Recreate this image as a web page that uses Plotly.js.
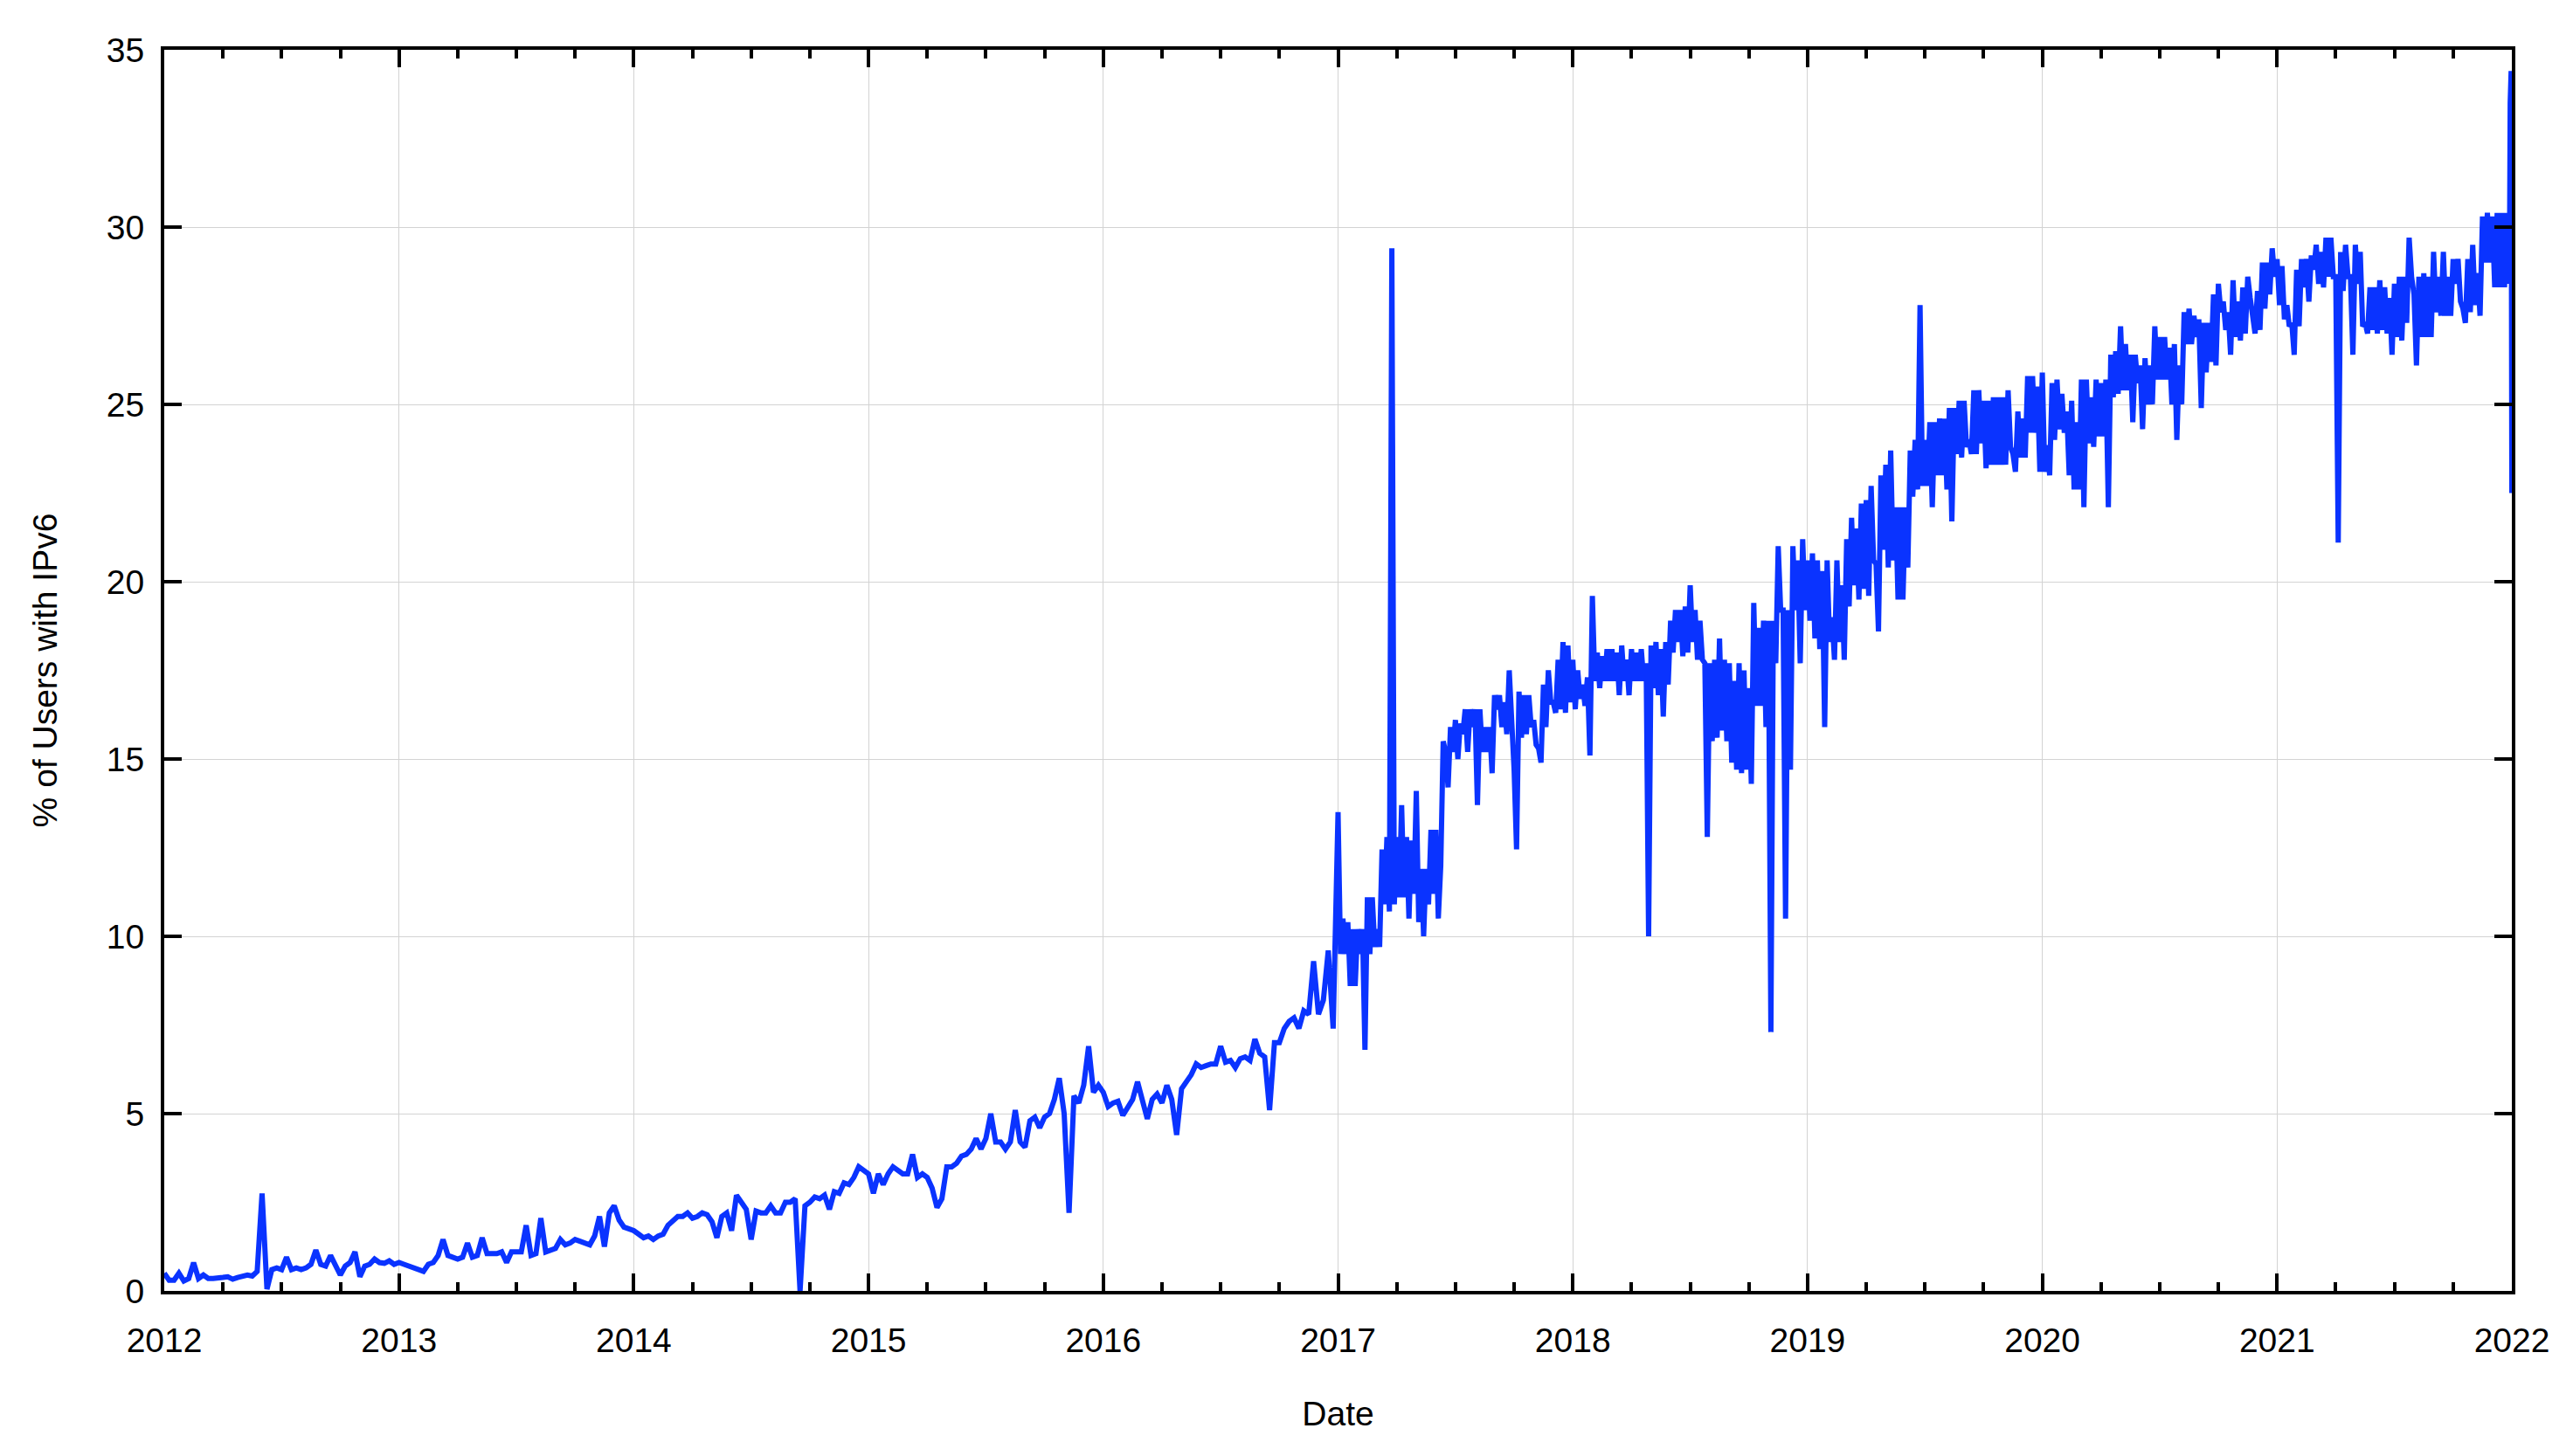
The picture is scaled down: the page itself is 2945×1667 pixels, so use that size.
<!DOCTYPE html>
<html>
<head>
<meta charset="utf-8">
<script src="https://cdn.plot.ly/plotly-3.0.1.min.js"></script>
<style>
  html, body { margin: 0; padding: 0; background: #ffffff; }
  #chart { width: 2945px; height: 1667px; }
</style>
</head>
<body>
<div id="chart"></div>
<script>
// % of users with IPv6.
// 2012-2016: 48 readings per year; 2017-2021: 48 (upper, lower) pairs per year,
// the top and bottom of the daily band, so 96 readings per year.
const years = [2012, 2013, 2014, 2015, 2016, 2017, 2018, 2019, 2020, 2021];
const stepsPerYear = [48, 48, 48, 48, 48, 96, 96, 96, 96, 96];

const v2012 = [0.5,0.3,0.3,0.5,0.28,0.35,0.8,0.35,0.45,0.35,0.35,0.38,0.38,0.4,0.33,0.38,0.42,0.45,0.42,0.55,2.75,0.05,0.6,0.65,0.6,0.95,0.6,0.65,0.6,0.65,0.75,1.15,0.75,0.7,1.0,0.75,0.45,0.7,0.8,1.1,0.4,0.7,0.75,0.9,0.8,0.78,0.85,0.75];
const v2013 = [0.8,0.75,0.7,0.65,0.6,0.55,0.75,0.8,1.0,1.45,1.0,0.95,0.9,0.95,1.35,0.95,1.0,1.5,1.05,1.05,1.05,1.1,0.8,1.1,1.1,1.1,1.85,1.0,1.05,2.05,1.1,1.15,1.2,1.45,1.3,1.35,1.45,1.4,1.35,1.3,1.55,2.1,1.25,2.2,2.4,2.0,1.8,1.75];
const v2014 = [1.7,1.6,1.5,1.55,1.45,1.55,1.6,1.85,2.0,2.1,2.1,2.2,2.05,2.1,2.2,2.15,1.95,1.5,2.1,2.2,1.7,2.7,2.5,2.3,1.45,2.25,2.2,2.2,2.4,2.2,2.2,2.5,2.5,2.6,0.0,2.4,2.5,2.65,2.6,2.7,2.3,2.8,2.75,3.05,3.0,3.2,3.5,3.4];
const v2015 = [3.3,2.75,3.3,3.0,3.3,3.5,3.4,3.3,3.3,3.85,3.2,3.3,3.2,2.9,2.35,2.6,3.5,3.5,3.6,3.8,3.85,4.0,4.3,4.0,4.3,5.0,4.2,4.2,4.0,4.2,5.1,4.2,4.05,4.8,4.9,4.6,4.9,5.0,5.4,6.0,5.0,2.2,5.5,5.3,5.8,6.9,5.6,5.8];
const v2016 = [5.6,5.2,5.3,5.35,4.95,5.2,5.4,5.9,5.35,4.85,5.4,5.55,5.3,5.8,5.4,4.4,5.7,5.9,6.1,6.4,6.3,6.35,6.4,6.4,6.9,6.45,6.5,6.3,6.55,6.6,6.5,7.1,6.7,6.6,5.1,7.0,7.0,7.4,7.6,7.7,7.4,7.9,7.8,9.3,7.8,8.2,9.6,7.4];
const v2017 = [
  13.5,9.5, 10.5,9.5, 10.4,8.6, 10.2,8.6, 10.2,9.5, 10.2,6.8, 11.1,9.5, 11.1,9.7,
  10.2,9.7, 12.45,10.9, 12.8,10.7, 29.4,10.9, 12.8,11.1, 13.7,11.1, 12.8,10.5, 12.7,11.2,
  14.1,10.4, 11.9,10.0, 11.9,10.9, 13.0,11.2, 13.0,10.5, 12.0,15.5, 15.2,14.2, 15.9,15.2,
  16.1,15.0, 16.0,15.7, 16.4,15.2, 16.4,15.9, 16.4,13.7, 16.4,15.2, 15.9,15.2, 15.9,14.6,
  16.8,16.4, 16.8,15.9, 16.6,15.7, 17.5,16.1, 14.7,12.45, 16.9,15.6, 16.8,15.7, 16.8,15.9,
  16.1,15.4, 15.3,14.9, 17.1,15.9, 17.5,16.6, 16.6,16.3, 17.8,16.4, 18.3,16.3, 18.2,16.6];
const v2018 = [
  17.8,16.4, 17.5,16.7, 17.1,16.5, 17.3,15.1, 19.6,17.2, 18.0,17.0, 17.9,17.2, 18.1,17.2,
  18.1,17.2, 18.0,16.8, 18.2,17.2, 17.8,16.8, 18.1,17.2, 18.0,17.2, 18.1,17.2, 17.7,10.0,
  18.2,17.0, 18.3,16.8, 18.1,16.2, 18.3,17.1, 18.9,18.0, 19.2,18.3, 19.2,17.9, 19.3,18.0,
  19.9,18.3, 19.2,17.8, 18.9,17.8, 17.7,12.8, 17.7,15.5, 17.8,15.6, 18.4,15.8, 17.8,15.5,
  17.7,14.9, 17.2,14.7, 17.7,14.6, 17.5,14.7, 17.0,14.3, 19.4,16.5, 18.7,16.5, 18.9,15.9,
  18.9,7.3, 18.9,17.7, 21.0,19.2, 19.2,10.5, 19.2,14.7, 21.0,19.2, 20.6,17.7, 21.2,19.2];
const v2019 = [
  20.6,18.9, 20.8,18.4, 20.6,18.1, 20.3,15.9, 20.6,18.3, 19.0,17.8, 20.6,18.3, 19.9,17.8,
  21.2,19.3, 21.8,19.9, 21.5,19.5, 22.2,19.8, 22.3,19.6, 22.7,20.6, 20.5,18.6, 23.0,20.9,
  23.3,20.4, 23.7,20.6, 22.1,19.5, 22.1,19.5, 22.1,20.4, 23.7,22.4, 24.0,22.6, 27.8,22.7,
  24.0,22.7, 24.5,22.1, 24.5,23.0, 24.6,23.0, 24.6,22.6, 24.9,21.7, 24.9,23.6, 25.1,23.5,
  25.1,23.8, 24.0,23.6, 25.4,23.6, 25.4,23.9, 25.1,23.2, 25.1,23.3, 25.2,23.3, 25.2,23.3,
  25.2,23.3, 25.4,23.8, 23.6,23.1, 24.8,23.5, 24.6,23.5, 25.8,24.2, 25.8,24.2, 25.5,23.1];
const v2020 = [
  25.9,23.1, 23.85,23.0, 25.6,24.0, 25.7,24.3, 25.3,24.2, 24.8,23.0, 25.1,22.6, 24.5,22.6,
  25.7,22.1, 25.7,23.9, 25.2,23.8, 25.7,24.1, 25.6,24.1, 25.7,22.1, 26.4,25.2, 26.5,25.3,
  27.2,25.4, 26.7,25.4, 26.4,24.5, 26.4,25.6, 26.1,24.3, 26.3,25.0, 26.1,25.0, 27.2,25.7,
  26.9,25.7, 26.9,25.7, 26.6,25.0, 26.7,24.0, 26.1,25.0, 27.6,26.7, 27.7,26.7, 27.5,26.9,
  27.4,24.9, 27.3,25.9, 27.3,26.2, 28.1,26.1, 28.4,27.6, 27.9,27.1, 27.6,26.4, 28.5,26.9,
  27.9,26.8, 28.3,27.0, 28.6,28.0, 27.6,27.0, 28.2,27.1, 29.0,27.7, 29.0,28.1, 29.4,28.6];
const v2021 = [
  29.1,27.8, 28.9,27.4, 27.8,27.2, 27.3,26.4, 28.8,27.2, 29.1,28.3, 29.1,27.9, 29.2,28.8,
  29.5,28.4, 29.3,28.3, 29.7,28.6, 29.7,28.6, 28.6,21.1, 29.3,28.2, 29.5,28.6, 28.6,26.4,
  29.5,28.4, 29.3,27.2, 27.3,27.0, 28.3,27.1, 28.3,27.0, 28.5,27.1, 28.3,27.0, 28.0,26.4,
  28.4,26.9, 28.6,26.8, 28.6,27.3, 29.7,28.6, 28.1,26.1, 28.6,26.9, 28.7,26.9, 28.6,26.9,
  29.3,27.6, 28.6,27.5, 29.3,27.5, 28.6,27.5, 29.1,28.4, 29.1,27.9, 27.7,27.3, 29.1,27.6,
  29.5,27.8, 28.7,27.5, 30.3,29.0, 30.4,29.0, 30.3,28.3, 30.4,28.3, 30.4,28.3, 30.4,28.4];

// the last days of December 2021
const endDates = [2021.993, 2021.997, 2022.0];
const endValues = [33.5, 34.4, 22.5];

const yTicks = [0, 5, 10, 15, 20, 25, 30, 35];
const xTicks = [2012, 2013, 2014, 2015, 2016, 2017, 2018, 2019, 2020, 2021, 2022];
const xTickLabels = ['2012','2013','2014','2015','2016','2017','2018','2019','2020','2021','2022'];

const yearly = [v2012, v2013, v2014, v2015, v2016, v2017, v2018, v2019, v2020, v2021];
const xs = [], ys = [];
yearly.forEach((arr, i) => {
  arr.forEach((v, k) => { xs.push(years[i] + k / stepsPerYear[i]); ys.push(v); });
});
endDates.forEach((d, i) => { xs.push(d); ys.push(endValues[i]); });

const font = { family: 'Liberation Sans, Arial, Helvetica, sans-serif', size: 39, color: '#000000' };

const trace = {
  x: xs, y: ys, type: 'scatter', mode: 'lines',
  line: { color: '#0a33ff', width: 6 },
  hoverinfo: 'skip'
};

const axisCommon = {
  showline: true, linecolor: '#000000', linewidth: 4, mirror: 'allticks',
  ticks: 'inside', ticklen: 20, tickwidth: 4, tickcolor: '#000000',
  showgrid: true, gridcolor: '#d3d3d3', gridwidth: 1,
  zeroline: false, tickfont: font
};

const layout = {
  width: 2945, height: 1667,
  paper_bgcolor: '#ffffff', plot_bgcolor: '#ffffff',
  margin: { l: 188, r: 70, t: 57, b: 189 },
  showlegend: false,
  xaxis: Object.assign({}, axisCommon, {
    type: 'linear', range: [2012, 2022],
    tickmode: 'array', tickvals: xTicks, ticktext: xTickLabels,
    minor: { dtick: 0.25, tick0: 2012, ticks: 'inside', ticklen: 10, tickwidth: 4, tickcolor: '#000000', showgrid: false },
    ticklabelstandoff: 19,
    title: { text: 'Date', font: font, standoff: 51 }
  }),
  yaxis: Object.assign({}, axisCommon, {
    range: [0, 35],
    tickmode: 'array', tickvals: yTicks, ticktext: yTicks.map(String),
    ticklabelstandoff: 11,
    title: { text: '% of Users with IPv6', font: font, standoff: 45 }
  })
};

Plotly.newPlot('chart', [trace], layout, { staticPlot: true, displayModeBar: false });
</script>
</body>
</html>
